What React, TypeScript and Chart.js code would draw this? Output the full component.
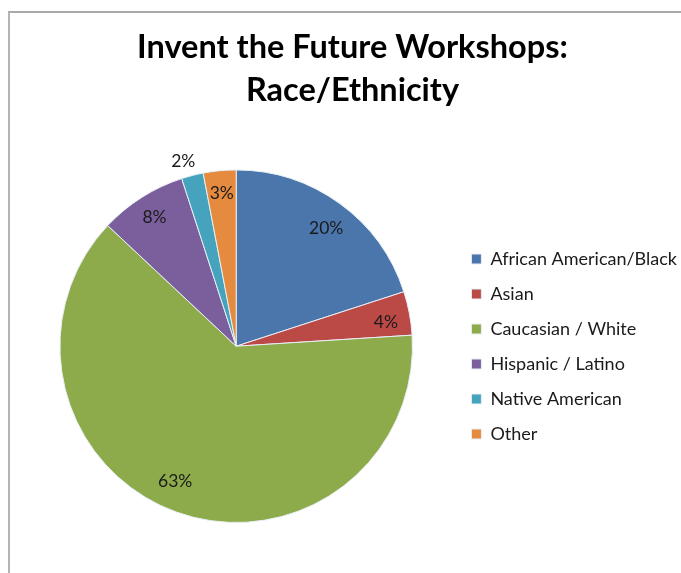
import React, { useEffect, useRef } from "react";
import { Chart, registerables } from "chart.js";

Chart.register(...registerables);

const titleLines = ["Invent the Future Workshops:", "Race/Ethnicity"];
const categories = [
  "African American/Black",
  "Asian",
  "Caucasian / White",
  "Hispanic / Latino",
  "Native American",
  "Other",
];
const percentages = [20, 4, 63, 8, 2, 3];
const sliceColors = ["#4a76ab", "#bb4a47", "#8dab4a", "#7a5f9c", "#46a3bd", "#e58b3f"];

// label placement inside each slice: fraction along the arc and fraction of radius
const labelAngleFrac = [0.52, 0.62, 0.52, 0.5, 0.28, 0.5];
const labelRadiusFrac = [0.84, 0.86, 0.84, 0.865, 1.09, 0.87];

const sliceLabels = {
  id: "sliceLabels",
  afterDatasetsDraw(chart: any) {
    const ctx = chart.ctx;
    const meta = chart.getDatasetMeta(0);
    ctx.save();
    ctx.font = "17.5px Lato";
    ctx.fillStyle = "#1a1a1a";
    ctx.textAlign = "center";
    ctx.textBaseline = "middle";
    meta.data.forEach((arc: any, i: number) => {
      const p = arc.getProps(["x", "y", "startAngle", "endAngle", "outerRadius"], true);
      const a = p.startAngle + (p.endAngle - p.startAngle) * labelAngleFrac[i];
      const r = p.outerRadius * labelRadiusFrac[i];
      ctx.fillText(percentages[i] + "%", p.x + r * Math.cos(a), p.y + r * Math.sin(a));
    });
    ctx.restore();
  },
};

export default function App() {
  const ref = useRef<HTMLCanvasElement | null>(null);
  useEffect(() => {
    if (!ref.current) return;
    const chart = new Chart(ref.current, {
      type: "pie",
      data: {
        labels: categories,
        datasets: [
          {
            data: percentages,
            backgroundColor: sliceColors,
            borderColor: "#e8eef5",
            borderWidth: 1,
          },
        ],
      },
      options: {
        animation: false,
        responsive: true,
        maintainAspectRatio: false,
        layout: { padding: { left: 18, right: 13, top: 0, bottom: 50 } },
        plugins: {
          title: {
            display: true,
            text: titleLines,
            color: "#000",
            font: { family: "Lato", size: 32.5, weight: "bold", lineHeight: 1.33 },
            padding: { top: 26, bottom: 57 },
          },
          legend: {
            position: "right",
            align: "start",
            title: {
              display: true,
              text: "",
              font: { size: 1, lineHeight: 1 },
              padding: { top: 232, bottom: 0 },
            },
            labels: {
              boxWidth: 10,
              boxHeight: 10,
              padding: 17,
              color: "#1a1a1a",
              font: { family: "Lato", size: 18 },
            },
          },
          tooltip: { enabled: false },
        },
      },
      plugins: [sliceLabels],
    });
    return () => chart.destroy();
  }, []);
  return (
    <div style={{ position: "fixed", left: 0, top: 0, width: 681, height: 573, overflow: "hidden", background: "#fff" }}>
      <div
        style={{
          position: "absolute",
          left: 8,
          top: 11,
          width: 700,
          height: 600,
          borderTop: "2px solid #a8a8a8",
          borderLeft: "2px solid #b4b4b4",
        }}
      />
      <div style={{ position: "absolute", left: 0, top: 0, width: 700, height: 573 }}>
        <canvas ref={ref} />
      </div>
    </div>
  );
}
